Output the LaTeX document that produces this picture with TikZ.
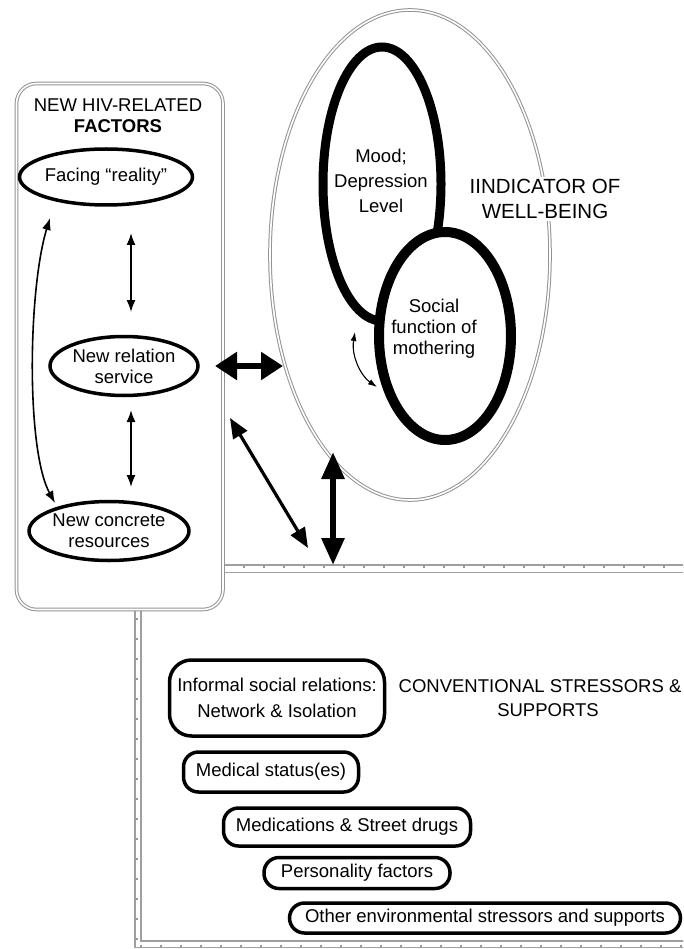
\documentclass[tikz,border=0pt]{standalone}
\usepackage{fontspec}
\setmainfont{Liberation Sans}
\usetikzlibrary{shapes.geometric,arrows.meta}
\begin{document}
\begin{tikzpicture}[x=1pt,y=-1pt,
  lbl/.style={font=\fontsize{18.5}{21}\selectfont, align=center, inner sep=0pt},
  oval/.style={ellipse, draw, line width=3.5pt, inner sep=0pt, font=\fontsize{18.5}{21}\selectfont, align=center},
  pill/.style={draw, line width=3.5pt, rounded corners=15pt, font=\fontsize{18.5}{21}\selectfont, align=center, inner sep=0pt},
  grayframe/.style={draw=gray!85, double=white, double distance=1.6pt, line width=1pt},
  framelines/.style={draw=gray!75, line width=1.3pt},
  framedots/.style={draw=gray!80, line width=2pt, dash pattern=on 2pt off 18pt},
  thinarr/.style={line width=1.6pt, {Latex[length=12pt,width=9pt]}-{Latex[length=12pt,width=9pt]}},
  smallarr/.style={line width=1.1pt, {Latex[length=9pt,width=6pt]}-{Latex[length=9pt,width=6pt]}},
  bigarr/.style={line width=6pt, {Triangle[length=22pt,width=27pt]}-{Triangle[length=22pt,width=27pt]}},
  diagarr/.style={line width=3.2pt, {Triangle[length=20pt,width=16pt]}-{Triangle[length=20pt,width=16pt]}},
  vertarr/.style={line width=6pt, {Triangle[length=27pt,width=22pt]}-{Triangle[length=27pt,width=22pt]}}
]
\useasboundingbox (0,0) rectangle (683,949);
\fill[white] (0,0) rectangle (683,949);
\clip (0,0) rectangle (683,949);

% bottom frame (conventional stressors)
\draw[framelines] (700,947.5) -- (135,947.5) -- (135,565) -- (700,565);
\draw[framelines] (700,941) -- (141,941) -- (141,572.5) -- (700,572.5);
\draw[framedots] (136.5,940) -- (136.5,566.5) -- (700,566.5);
\draw[framedots] (140,946) -- (700,946);

% left box
\node[grayframe, fill=white, rounded corners=20pt, minimum width=206.5pt, minimum height=526pt, inner sep=0pt] (hiv) at (119.75,346.5) {};
\node[lbl] (hivtitle) at (118,116) {NEW HIV-RELATED\\\textbf{FACTORS}};

\node[oval, minimum width=149pt, minimum height=56pt] (facing) at (106,177) {Facing “reality”};
\node[oval, minimum width=148pt, minimum height=59pt] (relation) at (124,366) {New relation\\service};
\node[oval, minimum width=149pt, minimum height=59pt] (concrete) at (109,531) {New concrete\\resources};

\coordinate (a1) at (131,233); \coordinate (a2) at (131,312);
\coordinate (b1) at (131,410); \coordinate (b2) at (131,487);
\coordinate (c1) at (50,218);  \coordinate (c2) at (55,503);
\draw[thinarr] (a1) -- (a2);
\draw[thinarr] (b1) -- (b2);
\draw[thinarr] (c1) .. controls (28,290) and (26,450) .. (c2);

% well-being ellipse
\node[ellipse, grayframe, minimum width=280pt, minimum height=490pt, inner sep=0pt] (wb) at (410,255) {};
\node[draw, ellipse, line width=9pt, minimum width=118pt, minimum height=274pt, inner sep=0pt] (mood) at (382,184) {};
\node[draw, ellipse, line width=10pt, fill=white, minimum width=132pt, minimum height=208pt, inner sep=0pt] (social) at (445,336) {};
\node[lbl, font=\fontsize{18.5}{25}\selectfont] (moodtxt) at (381,181) {Mood;\\Depression\\Level};
\node[lbl] (socialtxt) at (434,329) {Social\\function of\\mothering};
\node[lbl, fill=white, inner sep=2pt, font=\fontsize{20.5}{25}\selectfont] (ind) at (545,199) {IINDICATOR OF\\WELL-BEING};

\coordinate (s1) at (355,332); \coordinate (s2) at (377,387);
\draw[smallarr] (s1) .. controls (351,356) and (361,376) .. (s2);

% thick arrows
\coordinate (h1) at (215,366); \coordinate (h2) at (283,366);
\coordinate (d1) at (230,418); \coordinate (d2) at (308,548);
\coordinate (v1) at (333,452); \coordinate (v2) at (333,565);
\draw[bigarr] (h1) -- (h2);
\draw[diagarr] (d1) -- (d2);
\draw[vertarr] (v1) -- (v2);

% conventional stressors
\node[pill, rounded corners=22pt, minimum width=215pt, minimum height=76pt, font=\fontsize{18.5}{26}\selectfont] (informal) at (277,698) {Informal social relations:\\Network \& Isolation};
\node[lbl] (conv1) at (540,686) {CONVENTIONAL STRESSORS \&};
\node[lbl] (conv2) at (548,710) {SUPPORTS};
\node[pill, minimum width=175pt, minimum height=40pt] (medical) at (271,772) {Medical status(es)};
\node[pill, minimum width=247pt, minimum height=38pt] (meds) at (347,827) {Medications \& Street drugs};
\node[pill, minimum width=186pt, minimum height=31pt] (pers) at (357,873) {Personality factors};
\node[pill, minimum width=391pt, minimum height=30pt] (other) at (485,918) {Other environmental stressors and supports};
\end{tikzpicture}
\end{document}
